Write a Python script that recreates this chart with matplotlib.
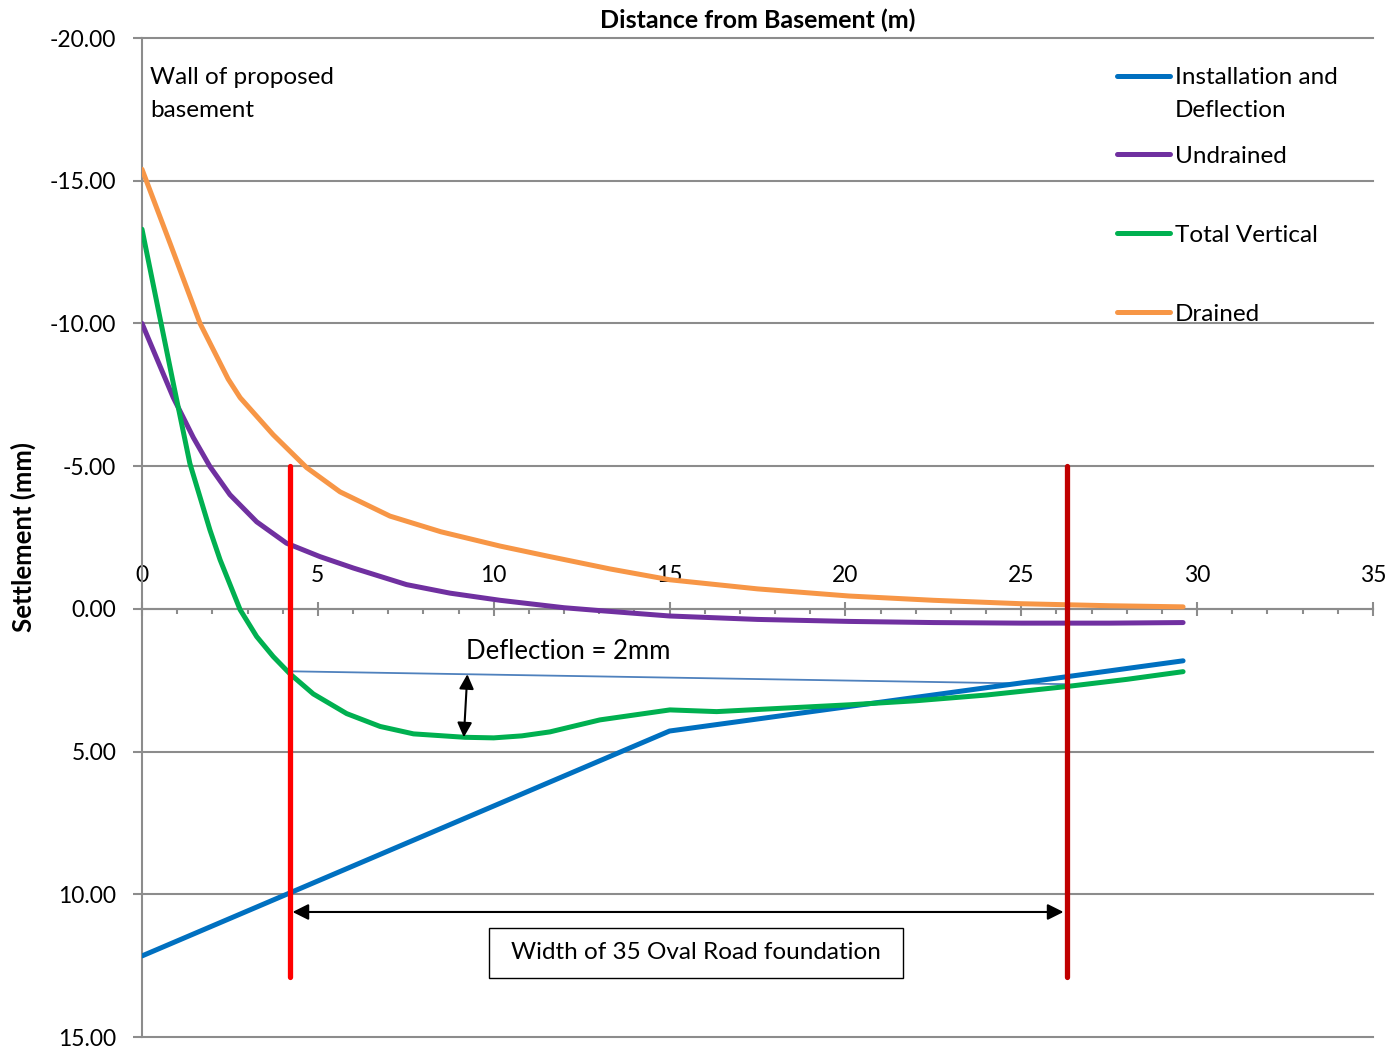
import numpy as np
import matplotlib
matplotlib.use("Agg")
import matplotlib.pyplot as plt
from matplotlib.lines import Line2D
from matplotlib.patches import Rectangle
from matplotlib.ticker import MultipleLocator, FormatStrFormatter

plt.rcParams['font.family'] = ['Lato', 'DejaVu Sans']

# ---- settlement profiles (distance in m, settlement in mm; negative = heave) ----
install_x = [0, 15, 29.6]
install_y = [12.16, 4.28, 1.82]

undrained_x = [0, 0.89, 1.46, 1.93, 2.5, 3.26, 4.11, 5.06, 6.01, 7.52, 8.76, 10.18,
               12, 13, 15, 17.5, 20.1, 22.5, 25, 27.5, 29.6]
undrained_y = [-10.0, -7.4, -6.0, -4.99, -4.0, -3.05, -2.3, -1.83, -1.43, -0.85, -0.55,
               -0.3, -0.04, 0.06, 0.25, 0.37, 0.44, 0.48, 0.5, 0.5, 0.48]

total_x = [0, 0.51, 0.89, 1.36, 1.93, 2.22, 2.79, 3.26, 3.73, 4.21, 4.87, 5.82, 6.77,
           7.72, 9.18, 10.0, 10.8, 11.6, 13.02, 15.01, 16.34, 18.23, 20.13, 22, 24,
           26.3, 28, 29.6]
total_y = [-13.3, -10.2, -7.9, -5.1, -2.77, -1.72, 0.03, 0.97, 1.67, 2.28, 2.98, 3.67,
           4.12, 4.38, 4.5, 4.52, 4.45, 4.31, 3.89, 3.54, 3.6, 3.48, 3.36, 3.22, 3.02,
           2.72, 2.47, 2.2]

drained_x = [0, 0.8, 1.65, 2.45, 2.79, 3.73, 4.68, 5.63, 7.05, 8.5, 10.18, 11.6, 13.3,
             15, 17.5, 20.1, 22.5, 25, 27.5, 29.6]
drained_y = [-15.4, -12.8, -10.0, -8.05, -7.4, -6.1, -4.95, -4.1, -3.25, -2.7, -2.2,
             -1.83, -1.4, -1.02, -0.7, -0.45, -0.3, -0.18, -0.11, -0.07]

series_names = ["Installation and\nDeflection", "Undrained", "Total Vertical", "Drained"]
series_colors = ["#0070C0", "#7030A0", "#00B050", "#F79646"]

# foundation edges of 35 Oval Road and the red marker extent
foundation_x = [4.2, 26.3]
marker_top, marker_bottom = -5.0, 12.9
arrow_level = 10.62
deflection_x = 9.2

yticks = [-20, -15, -10, -5, 0, 5, 10, 15]
xticks = [0, 5, 10, 15, 20, 25, 30, 35]

W, H = 1390, 1051
fig = plt.figure(figsize=(W / 100, H / 100), dpi=100)
L, R, T, B = 142, 1373, 38, 1037
ax = fig.add_axes([L / W, 1 - B / H, (R - L) / W, (B - T) / H])


def ax_x(px):
    return (px - L) / (R - L)


def ax_y(py):
    return 1 - (py - T) / (B - T)


grey = "#8C8C8C"
ax.set_xlim(0, 35)
ax.set_ylim(15, -20)

# axes styling: y axis on the left, x axis running along zero settlement
for s in ["right", "bottom"]:
    ax.spines[s].set_visible(False)
ax.spines["left"].set_color(grey)
ax.spines["left"].set_linewidth(1.5)
ax.spines["top"].set_position(("data", 0))
ax.spines["top"].set_color(grey)
ax.spines["top"].set_linewidth(1.5)
ax.xaxis.tick_top()

ax.set_yticks(yticks)
ax.yaxis.set_major_formatter(FormatStrFormatter("%.2f"))
ax.set_xticks(xticks)
ax.xaxis.set_minor_locator(MultipleLocator(1))
ax.tick_params(axis="y", direction="out", length=6.5, width=1.5, color=grey,
               labelsize=16.5, pad=12)
ax.tick_params(axis="x", which="major", direction="inout", length=9.5, width=1.5,
               color=grey, labelsize=16.5, pad=11.5)
ax.tick_params(axis="x", which="minor", direction="in", length=3.8, width=1.5, color=grey)
ax.yaxis.grid(True, color=grey, linewidth=1.5)
ax.set_axisbelow(True)
for gl in ax.get_ygridlines():
    gl.set_clip_on(False)

ax.set_title("Distance from Basement (m)", fontsize=18, fontweight="bold", pad=7)
ax.set_ylabel("Settlement (mm)", fontsize=18.5, fontweight="bold")
ax.yaxis.set_label_coords(-0.086, 0.5)

# settlement curves
profiles = [(install_x, install_y), (undrained_x, undrained_y),
            (total_x, total_y), (drained_x, drained_y)]
for (xs, ys), c in zip(profiles, series_colors):
    ax.plot(xs, ys, color=c, lw=3.6, solid_capstyle="round", solid_joinstyle="round",
            zorder=4)

# foundation edge markers
ax.plot([foundation_x[0]] * 2, [marker_top, marker_bottom], color="#FF0000", lw=3.8,
        solid_capstyle="round", zorder=5)
ax.plot([foundation_x[1]] * 2, [marker_top, marker_bottom], color="#C00000", lw=3.8,
        solid_capstyle="round", zorder=5)

# chord between total settlement at the two foundation edges
edge_y = np.interp(foundation_x, total_x, total_y) - 0.08
ax.plot(foundation_x, edge_y, color="#4F81BD", lw=1.3, zorder=3)

# deflection arrow between chord and curve
chord_at = np.interp(deflection_x, foundation_x, edge_y)
curve_at = np.interp(deflection_x, total_x, total_y)
ax.annotate("", xy=(deflection_x - 0.05, curve_at), xytext=(deflection_x + 0.05, chord_at),
            arrowprops=dict(arrowstyle="<|-|>", color="black", lw=1.5, mutation_scale=22,
                            shrinkA=0, shrinkB=0), zorder=6)
ax.text(deflection_x, 1.5, "Deflection = 2mm", fontsize=18.5, ha="left", va="center")

# foundation width arrow and label box
ax.annotate("", xy=(foundation_x[0] + 0.08, arrow_level),
            xytext=(foundation_x[1] - 0.1, arrow_level),
            arrowprops=dict(arrowstyle="<|-|>", color="black", lw=1.5, mutation_scale=24,
                            shrinkA=0, shrinkB=0), zorder=6)
ax.add_patch(Rectangle((9.87, 11.18), 11.77, 1.75, fill=False, edgecolor="black", lw=1.0,
                       zorder=6))
ax.text(15.75, 12.05, "Width of 35 Oval Road foundation", fontsize=17.5, ha="center",
        va="center", zorder=7)

# multi-line texts are placed by the baseline of their last line
ax.text(ax_x(150), ax_y(117), "Wall of proposed\nbasement", fontsize=17.5,
        ha="left", va="baseline", linespacing=1.7, transform=ax.transAxes)

# legend
leg_y = [76, 154, 233, 312]
for name, c, py in zip(series_names, series_colors, leg_y):
    ax.add_line(Line2D([ax_x(1117), ax_x(1170)], [ax_y(py), ax_y(py)], color=c,
                       lw=3.6, solid_capstyle="round", transform=ax.transAxes,
                       clip_on=False))
    n_extra = name.count("\n")
    ax.text(ax_x(1175), ax_y(py + 9 + 32 * n_extra), name, fontsize=17.5, ha="left",
            va="baseline", linespacing=1.7, transform=ax.transAxes)

fig.savefig("out.png", dpi=100)
